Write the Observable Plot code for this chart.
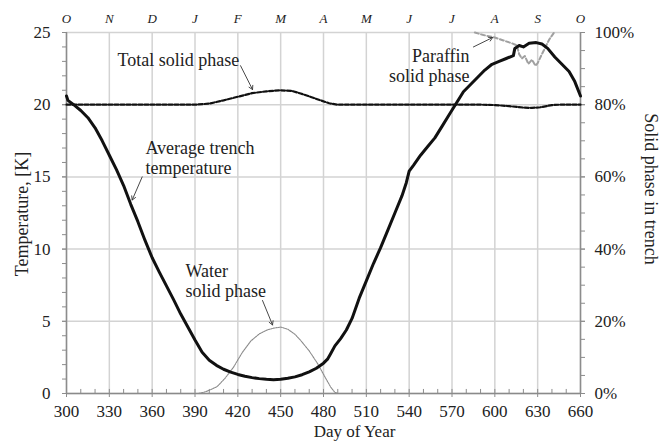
<!DOCTYPE html>
<html>
<head>
<meta charset="utf-8">
<script src="https://cdn.jsdelivr.net/npm/d3@7"></script>
<script src="https://cdn.jsdelivr.net/npm/@observablehq/plot@0.6"></script>
<style>
  html, body { margin: 0; padding: 0; background: white; }
</style>
</head>
<body>
<div id="chart"></div>
<script>
// ---- data ----
const tempDay = [300,301,305,310,315,320,325,330,335,340,345,350,355,360,365,370,375,380,385,390,395,400,405,410,415,420,425,430,435,440,445,450,455,460,465,470,475,480,483,485,488,492,496,500,505,510,515,520,525,530,535,538,540,543,548,553,558,563,568,573,578,583,588,593,598,603,608,613,614,617,620,624,629,633,637,642,647,652,656,660];
const tempVal = [20.6,20.3,20.0,19.6,19.1,18.4,17.5,16.5,15.5,14.4,13.1,11.9,10.6,9.4,8.4,7.45,6.5,5.5,4.6,3.7,2.85,2.3,1.95,1.68,1.48,1.32,1.2,1.1,1.03,0.98,0.96,0.98,1.05,1.15,1.3,1.5,1.75,2.1,2.4,2.75,3.3,3.8,4.4,5.2,6.6,7.8,9.0,10.1,11.3,12.5,13.7,14.6,15.4,15.8,16.5,17.1,17.7,18.5,19.3,20.1,20.9,21.4,21.9,22.4,22.8,23.0,23.2,23.4,23.9,24.1,24.0,24.25,24.3,24.2,23.9,23.3,22.8,22.3,21.6,20.6];

const totalDay = [300,390,400,410,420,430,440,450,458,464,470,478,484,490,590,600,610,620,626,632,640,645,660];
const totalPct = [80,80,80.3,81.2,82.2,83.2,83.7,84.0,83.8,83.1,82.3,81.2,80.4,80,80,79.9,79.6,79.2,79.1,79.3,79.9,80,80];

const waterDay = [300,392,396,400,405.5,411,417,423,429,435,440.5,445,450,455,460,464,470,476,481,485,488,490,660];
const waterPct = [0,0,0.3,0.9,1.9,4.2,7.3,11.3,14.5,16.5,17.6,18.1,18.4,17.8,16.4,14.7,11.8,8.2,4.6,1.8,0.3,0,0];

const parDay = [586,592,600,606,612,615.5,617,619,621,623.5,626,628.5,630,632,635.5,638,641.5];
const parPct = [100,99.3,98.6,97.8,97,96.4,94,92.8,93.5,91.3,92.5,90.8,91.5,93.2,96,98,100];

const xTicks = [300,330,360,390,420,450,480,510,540,570,600,630,660];
const monthLabels = ["O","N","D","J","F","M","A","M","J","J","A","S","O"];
const yTicks = [0,5,10,15,20,25];
const pctTicks = [0,20,40,60,80,100];

const xLabel = "Day of Year";
const yLabel = "Temperature, [K]";
const y2Label = "Solid phase in trench";

const notes = [
  {text: "Total solid phase", day: 378.4, t: 23.55, anchor: "middle"},
  {text: "Average trench\ntemperature", day: 355.3, t: 17.55, anchor: "start"},
  {text: "Water\nsolid phase", day: 383.3, t: 9.05, anchor: "start"},
  {text: "Paraffin\nsolid phase", day: 582.3, t: 23.95, anchor: "end"}
];
const arrows = [
  {d1: 421.9, t1: 22.7, d2: 430.3, t2: 21.05},
  {d1: 353.0, t1: 15.0, d2: 346.0, t2: 13.4},
  {d1: 437.3, t1: 6.44, d2: 444.3, t2: 4.75},
  {d1: 585, t1: 24.0, d2: 598.4, t2: 24.65}
];

// ---- derived ----
const pctToY = p => p / 4;  // 100% <-> 25 on left scale
const temp = tempDay.map((d, i) => ({x: d, y: tempVal[i]}));
const total = totalDay.map((d, i) => ({x: d, y: pctToY(totalPct[i])}));
const water = waterDay.map((d, i) => ({x: d, y: pctToY(waterPct[i])}));
const paraffin = parDay.map((d, i) => ({x: d, y: pctToY(parPct[i])}));
const minorX = d3.range(300, 661, 10).filter(d => !xTicks.includes(d));
const minorY = d3.range(0, 25.01, 1);
const minorY2 = d3.range(0, 100.01, 5).map(pctToY);

const grid = "#d3d3d3";
const axisC = "#8c8c8c";
const ink = "#222";
const serif = "Liberation Serif, Times New Roman, serif";

const chart = Plot.plot({
  width: 672,
  height: 443,
  marginLeft: 66,
  marginRight: 92,
  marginTop: 32,
  marginBottom: 50,
  style: {fontFamily: serif, fontSize: "17px", color: ink, background: "white"},
  x: {domain: [300, 660]},
  y: {domain: [0, 25]},
  marks: [
    Plot.ruleX(xTicks, {stroke: grid, strokeWidth: 1.5}),
    Plot.ruleY(yTicks, {stroke: grid, strokeWidth: 1.5}),
    // minor ticks
    Plot.axisY({anchor: "left", ticks: minorY, tickSize: 4, text: null, stroke: axisC, label: null}),
    Plot.axisY({anchor: "right", ticks: minorY2, tickSize: 4, text: null, stroke: axisC, label: null}),
    Plot.ruleX(minorX, {y1: 0, y2: 0.28, stroke: axisC, strokeWidth: 1}),
    Plot.ruleX(xTicks, {y1: 0, y2: 0.28, stroke: axisC, strokeWidth: 1}),
    // axis lines
    Plot.ruleX([300, 660], {stroke: axisC, strokeWidth: 1.5}),
    Plot.ruleY([0], {stroke: axisC, strokeWidth: 1.5}),
    // axes
    Plot.axisY({anchor: "left", ticks: yTicks, tickSize: 4, tickPadding: 12, stroke: axisC, label: null, fill: ink, fontSize: 17}),
    Plot.axisY({anchor: "right", ticks: pctTicks.map(pctToY), tickSize: 4, tickPadding: 10, stroke: axisC, label: null, fill: ink, fontSize: 17,
      tickFormat: (d, i) => pctTicks[i] + "%"}),
    Plot.axisX({anchor: "bottom", ticks: xTicks, tickSize: 4, tickPadding: 7, stroke: axisC, label: null, fill: ink, fontSize: 17}),
    Plot.axisX({anchor: "top", ticks: xTicks, tickSize: 0, tickPadding: 10, label: null, fill: ink,
      tickFormat: (d, i) => monthLabels[i], fontSize: 13, fontStyle: "italic"}),
    // axis titles
    Plot.text([yLabel], {frameAnchor: "left", textAnchor: "middle", dx: -44, dy: 1, rotate: -90, fontSize: 18, fill: ink}),
    Plot.text([y2Label], {frameAnchor: "right", textAnchor: "middle", dx: 70, dy: -24, rotate: 90, fontSize: 18, fill: ink}),
    Plot.text([xLabel], {frameAnchor: "bottom", textAnchor: "middle", dx: 31, dy: 43, fontSize: 17, fill: ink}),
    // series
    Plot.line(water, {x: "x", y: "y", stroke: "#8a8a8a", strokeWidth: 1.1, strokeDasharray: "1.5,1"}),
    Plot.line(paraffin, {x: "x", y: "y", stroke: "#a0a0a0", strokeWidth: 2, strokeDasharray: "4,2.5"}),
    Plot.line(total, {x: "x", y: "y", stroke: "#111", strokeWidth: 2.2, strokeDasharray: "4,2"}),
    Plot.line(temp, {x: "x", y: "y", stroke: "#111", strokeWidth: 3}),
    // annotations
    Plot.arrow(arrows, {x1: "d1", y1: "t1", x2: "d2", y2: "t2", stroke: "#333", strokeWidth: 0.9, headLength: 7}),
    Plot.text(notes.filter(n => n.anchor === "middle"), {x: "day", y: "t", text: "text", textAnchor: "middle", lineAnchor: "top", fontSize: 18, fill: ink}),
    Plot.text(notes.filter(n => n.anchor === "start"), {x: "day", y: "t", text: "text", textAnchor: "start", lineAnchor: "top", fontSize: 18, fill: ink, lineHeight: 1.1}),
    Plot.text(notes.filter(n => n.anchor === "end"), {x: "day", y: "t", text: "text", textAnchor: "end", lineAnchor: "top", fontSize: 18, fill: ink, lineHeight: 1.1})
  ]
});
document.getElementById("chart").appendChild(chart);
</script>
</body>
</html>
